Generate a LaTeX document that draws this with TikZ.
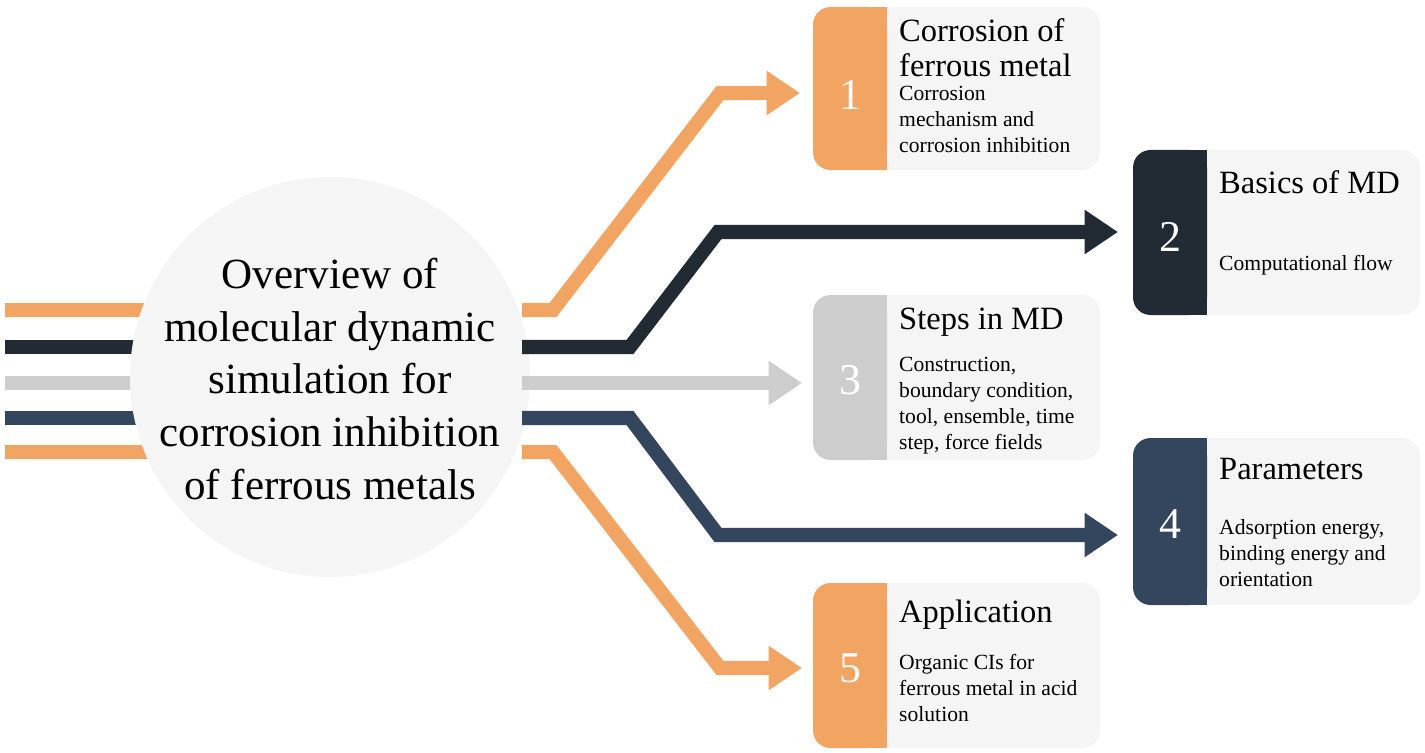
\documentclass[tikz,border=0pt]{standalone}
\usepackage{fontspec}
\setmainfont{Liberation Serif}
\usetikzlibrary{arrows.meta}
\definecolor{cor}{HTML}{F2A463}
\definecolor{cdk}{HTML}{222A33}
\definecolor{cgy}{HTML}{CDCDCD}
\definecolor{cnv}{HTML}{33465E}
\definecolor{cbx}{HTML}{F5F5F5}
\begin{document}
\begin{tikzpicture}[x=0.02cm,y=-0.02cm,
  ln/.style={line width=8pt},
  ar/.style={ln,-{Triangle[length=19pt,width=24pt]}},
  box/.style={fill=cbx,rounded corners=10pt},
  tab/.style={rounded corners=10pt},
  num/.style={text=white,font=\fontsize{25}{25}\selectfont},
  ttl/.style={anchor=west,font=\fontsize{18.5}{20}\selectfont,align=left},
  dsc/.style={anchor=west,font=\fontsize{12.3}{14.8}\selectfont,align=left}]
\useasboundingbox (0,0) rectangle (1425,753);
% lines from left
\draw[ln,cor] (5,310) -- (200,310);
\draw[ln,cdk] (5,347) -- (200,347);
\draw[ln,cgy] (5,383) -- (200,383);
\draw[ln,cnv] (5,418) -- (200,418);
\draw[ln,cor] (5,452) -- (200,452);
\node[circle,fill=cbx,minimum size=400*0.02cm,inner sep=0] (c) at (330,377) {};
\node[align=center,font=\fontsize{24.5}{30}\selectfont] (ct) at (330,379) {Overview of\\molecular dynamic\\simulation for\\corrosion inhibition\\of ferrous metals};
% connectors
\coordinate (o1) at (522,310); \coordinate (o2) at (522,347); \coordinate (o3) at (522,383);
\coordinate (o4) at (522,418); \coordinate (o5) at (522,452);
\coordinate (t1) at (800,93); \coordinate (t2) at (1118,232); \coordinate (t3) at (802,383);
\coordinate (t4) at (1118,535); \coordinate (t5) at (802,668);
\draw[ar,cor] (o1) -- (553,310) -- (720,93) -- (t1);
\draw[ar,cdk] (o2) -- (630,347) -- (718,232) -- (t2);
\draw[ar,cgy] (o3) -- (t3);
\draw[ar,cnv] (o4) -- (630,418) -- (718,535) -- (t4);
\draw[ar,cor] (o5) -- (553,452) -- (720,668) -- (t5);
% box 1
\fill[box] (860,7) rectangle (1100,170);
\fill[tab,cor] (813,7) rectangle (887,170);
\fill[cor] (870,7) rectangle (887,170);
\node[num] (n1) at (850,95) {1};
\node[ttl] (h1) at (893,48) {Corrosion of\\ferrous metal};
\node[dsc] (d1) at (893,119) {Corrosion\\mechanism and\\corrosion inhibition};
% box 2
\fill[box] (1180,150) rectangle (1420,315);
\fill[tab,cdk] (1133,150) rectangle (1207,315);
\fill[cdk] (1190,150) rectangle (1207,315);
\node[num] (n2) at (1170,237) {2};
\node[ttl] (h2) at (1213,182) {Basics of MD};
\node[dsc] (d2) at (1213,265) {Computational flow};
% box 3
\fill[box] (860,295) rectangle (1100,460);
\fill[tab,cgy] (813,295) rectangle (887,460);
\fill[cgy] (870,295) rectangle (887,460);
\node[num] (n3) at (850,380) {3};
\node[ttl] (h3) at (893,322) {Steps in MD};
\node[dsc] (d3) at (893,406) {Construction,\\boundary condition,\\tool, ensemble, time\\step, force fields};
% box 4
\fill[box] (1180,438) rectangle (1420,605);
\fill[tab,cnv] (1133,438) rectangle (1207,605);
\fill[cnv] (1190,438) rectangle (1207,605);
\node[num] (n4) at (1170,524) {4};
\node[ttl] (h4) at (1213,469) {Parameters};
\node[dsc] (d4) at (1213,553) {Adsorption energy,\\binding energy and\\orientation};
% box 5
\fill[box] (860,583) rectangle (1100,748);
\fill[tab,cor] (813,583) rectangle (887,748);
\fill[cor] (870,583) rectangle (887,748);
\node[num] (n5) at (850,668) {5};
\node[ttl] (h5) at (893,615) {Application};
\node[dsc] (d5) at (893,688) {Organic CIs for\\ferrous metal in acid\\solution};
\end{tikzpicture}
\end{document}
